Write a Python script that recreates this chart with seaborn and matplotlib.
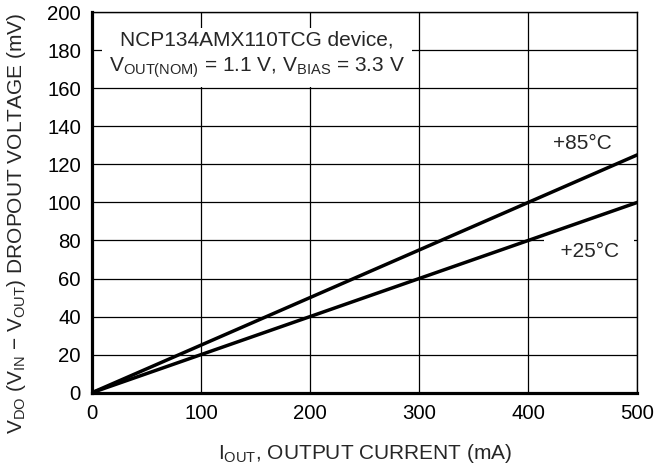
import matplotlib
matplotlib.use("Agg")
import matplotlib.pyplot as plt
import seaborn as sns
import pandas as pd

sns.set_style("white")
plt.rcParams['font.family'] = ['Liberation Sans', 'DejaVu Sans']
plt.rcParams['mathtext.fontset'] = 'custom'
plt.rcParams['mathtext.rm'] = 'Liberation Sans'

# data
current_ma = [0, 100, 200, 300, 400, 500]
vdo_85c = [0, 25, 50, 75, 100, 125]
vdo_25c = [0, 20, 40, 60, 80, 100]
x_ticks = [0, 100, 200, 300, 400, 500]
y_ticks = [0, 20, 40, 60, 80, 100, 120, 140, 160, 180, 200]

df = pd.DataFrame({
    'current': current_ma * 2,
    'vdo': vdo_85c + vdo_25c,
    'temp': ['+85°C'] * len(current_ma) + ['+25°C'] * len(current_ma),
})

FS = 15

fig, ax = plt.subplots(figsize=(6.55, 4.68), dpi=100)
fig.subplots_adjust(left=0.1405, right=0.973, top=0.974, bottom=0.161)

sns.lineplot(data=df, x='current', y='vdo', units='temp', estimator=None,
             color='black', linewidth=2.5, ax=ax, legend=False, zorder=3)

ax.set_xlim(0, 500)
ax.set_ylim(0, 200)
ax.set_xticks(x_ticks)
ax.set_yticks(y_ticks)
ax.grid(True, color='black', linewidth=0.9)
ax.set_axisbelow(True)
ax.tick_params(labelsize=14.7, length=0, pad=8, colors='black')

for side in ['left', 'bottom']:
    ax.spines[side].set_linewidth(2.3)
for side in ['top', 'right']:
    ax.spines[side].set_linewidth(1.0)
for sp in ax.spines.values():
    sp.set_color('black')

ax.set_xlabel(r'$\mathregular{I_{OUT}}$, OUTPUT CURRENT (mA)', fontsize=FS)
ax.set_ylabel(r'$\mathregular{V_{DO}}$ ($\mathregular{V_{IN}}$ − $\mathregular{V_{OUT}}$) DROPOUT VOLTAGE (mV)',
              fontsize=FS)
ax.xaxis.set_label_coords(0.5, -0.13)
ax.yaxis.set_label_coords(-0.118, 0.446)

box = dict(facecolor='white', edgecolor='none', pad=5)
ax.text(151.5, 177.3, 'NCP134AMX110TCG device,\n'
        r'$\mathregular{V_{OUT(NOM)}}$ = 1.1 V, $\mathregular{V_{BIAS}}$ = 3.3 V',
        ha='center', va='center', fontsize=FS, linespacing=1.35, bbox=box, zorder=4)
ax.text(450, 131, '+85°C', ha='center', va='center', fontsize=FS,
        bbox=dict(facecolor='white', edgecolor='none', pad=2), zorder=4)
ax.text(456, 74.4, '  +25°C  ', ha='center', va='center', fontsize=FS,
        bbox=dict(facecolor='white', edgecolor='none', pad=3), zorder=4)

fig.savefig('out.png', dpi=100)
